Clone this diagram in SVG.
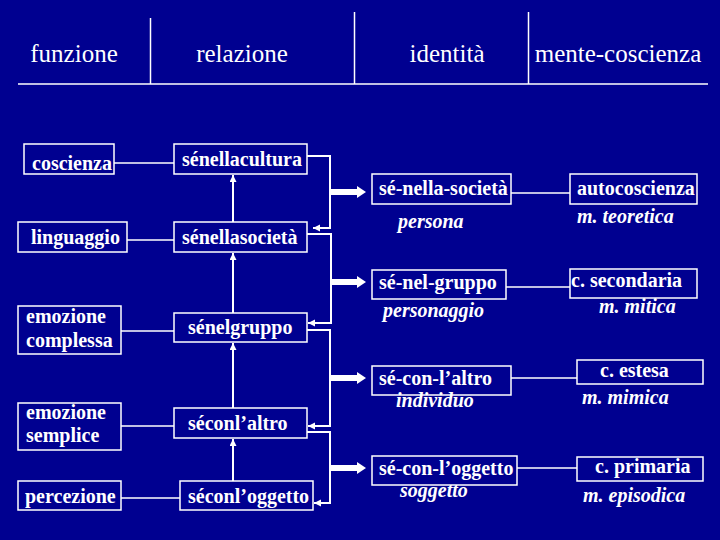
<svg xmlns="http://www.w3.org/2000/svg" width="720" height="540" viewBox="0 0 720 540">
<defs>
<style>
.bg{fill:#000090}
.box{fill:#000090;stroke:#ffffff;stroke-width:1.5}
.ln{stroke:#ffffff;stroke-width:1.5;fill:none}
.ar{stroke:#ffffff;stroke-width:2;fill:none}
.big{stroke:#ffffff;stroke-width:6;fill:none}
</style>
<marker id="sm" markerUnits="userSpaceOnUse" markerWidth="8" markerHeight="8" refX="7" refY="3.5" orient="auto">
<path d="M0,0 L7,3.5 L0,7 z" fill="#ffffff"/>
</marker>
<marker id="bh" markerUnits="userSpaceOnUse" markerWidth="10" markerHeight="13" refX="0" refY="6" orient="auto">
<path d="M0,0 L9,6 L0,12 z" fill="#ffffff"/>
</marker>
</defs>
<rect class="bg" x="0" y="0" width="720" height="540"/>

<g id="header">
<line class="ln" x1="18" y1="84" x2="708" y2="84"/>
<line class="ln" x1="150.5" y1="18" x2="150.5" y2="84"/>
<line class="ln" x1="354.5" y1="12" x2="354.5" y2="84"/>
<line class="ln" x1="528.5" y1="12" x2="528.5" y2="84"/>
<g font-family="Liberation Serif" font-size="25" fill="#ffffff" text-anchor="middle">
<text x="74" y="62">funzione</text>
<text x="242" y="62">relazione</text>
<text x="447" y="62">identità</text>
<text x="618" y="62">mente-coscienza</text>
</g>
</g>

<g id="connectors">
<line class="ln" x1="114" y1="163" x2="174" y2="163"/>
<line class="ln" x1="127" y1="240" x2="174" y2="240"/>
<line class="ln" x1="121" y1="331" x2="174" y2="331"/>
<line class="ln" x1="121" y1="426" x2="174" y2="426"/>
<line class="ln" x1="121" y1="498" x2="180" y2="498"/>
<line class="ar" x1="233" y1="222" x2="233" y2="175" marker-end="url(#sm)"/>
<line class="ar" x1="233" y1="313" x2="233" y2="253" marker-end="url(#sm)"/>
<line class="ar" x1="233" y1="408" x2="233" y2="343" marker-end="url(#sm)"/>
<line class="ar" x1="233" y1="481" x2="233" y2="439" marker-end="url(#sm)"/>
<path class="ar" d="M307,156 H330 V228 H313" marker-end="url(#sm)"/>
<path class="ar" d="M307,234 H331 V323 H308" marker-end="url(#sm)"/>
<path class="ar" d="M307,330 H330 V426 H308" marker-end="url(#sm)"/>
<path class="ar" d="M307,432 H330 V503 H314" marker-end="url(#sm)"/>
<path class="big" d="M331,192 H357" marker-end="url(#bh)"/>
<path class="big" d="M331,282 H357" marker-end="url(#bh)"/>
<path class="big" d="M331,378 H357" marker-end="url(#bh)"/>
<path class="big" d="M331,468 H357" marker-end="url(#bh)"/>
<line class="ln" x1="511" y1="193" x2="570" y2="193"/>
<line class="ln" x1="506" y1="287" x2="570" y2="287"/>
<line class="ln" x1="511" y1="378" x2="577" y2="378"/>
<line class="ln" x1="517" y1="468" x2="577" y2="468"/>
</g>

<g font-family="Liberation Serif" font-size="20" font-weight="bold" fill="#ffffff">
<g id="coscienza"><rect class="box" x="24" y="144" width="90" height="30"/><text x="32" y="170">coscienza</text></g>
<g id="linguaggio"><rect class="box" x="18" y="222" width="109" height="30"/><text x="31" y="244">linguaggio</text></g>
<g id="emozione-complessa"><rect class="box" x="18" y="306" width="103" height="48"/><text x="26" y="323">emozione</text><text x="26" y="347">complessa</text></g>
<g id="emozione-semplice"><rect class="box" x="18" y="403" width="103" height="47"/><text x="26" y="419">emozione</text><text x="26" y="442">semplice</text></g>
<g id="percezione"><rect class="box" x="18" y="481" width="103" height="29"/><text x="25" y="503">percezione</text></g>

<g id="senellacultura"><rect class="box" x="174" y="144" width="133" height="30"/><text x="182" y="166">sénellacultura</text></g>
<g id="senellasocieta"><rect class="box" x="174" y="222" width="133" height="30"/><text x="182" y="244">sénellasocietà</text></g>
<g id="senelgruppo"><rect class="box" x="174" y="313" width="133" height="29"/><text x="188" y="334">sénelgruppo</text></g>
<g id="seconlaltro"><rect class="box" x="174" y="408" width="133" height="30"/><text x="188" y="430">séconl’altro</text></g>
<g id="seconloggetto"><rect class="box" x="180" y="481" width="133" height="29"/><text x="188" y="503">séconl’oggetto</text></g>

<g id="se-nella-societa"><rect class="box" x="372" y="174" width="139" height="30"/><text x="379" y="195">sé-nella-società</text><text font-style="italic" x="398" y="228">persona</text></g>
<g id="se-nel-gruppo"><rect class="box" x="372" y="270" width="134" height="29"/><text x="379" y="289">sé-nel-gruppo</text><text font-style="italic" x="383" y="317">personaggio</text></g>
<g id="se-con-laltro"><rect class="box" x="372" y="366" width="139" height="29"/><text x="379" y="385">sé-con-l’altro</text><text font-style="italic" x="396" y="407">individuo</text></g>
<g id="se-con-loggetto"><rect class="box" x="372" y="456" width="145" height="29"/><text x="379" y="475">sé-con-l’oggetto</text><text font-style="italic" x="400" y="497">soggetto</text></g>

<g id="autocoscienza"><rect class="box" x="570" y="174" width="127" height="30"/><text x="577" y="195">autocoscienza</text><text font-style="italic" x="577" y="223">m. teoretica</text></g>
<g id="c-secondaria"><rect class="box" x="570" y="269" width="127" height="29"/><text x="571" y="287">c. secondaria</text><text font-style="italic" x="599" y="313">m. mitica</text></g>
<g id="c-estesa"><rect class="box" x="577" y="360" width="126" height="24"/><text x="600" y="377">c. estesa</text><text font-style="italic" x="582" y="404">m. mimica</text></g>
<g id="c-primaria"><rect class="box" x="577" y="457" width="126" height="24"/><text x="595" y="473">c. primaria</text><text font-style="italic" x="583" y="502">m. episodica</text></g>
</g>
</svg>
